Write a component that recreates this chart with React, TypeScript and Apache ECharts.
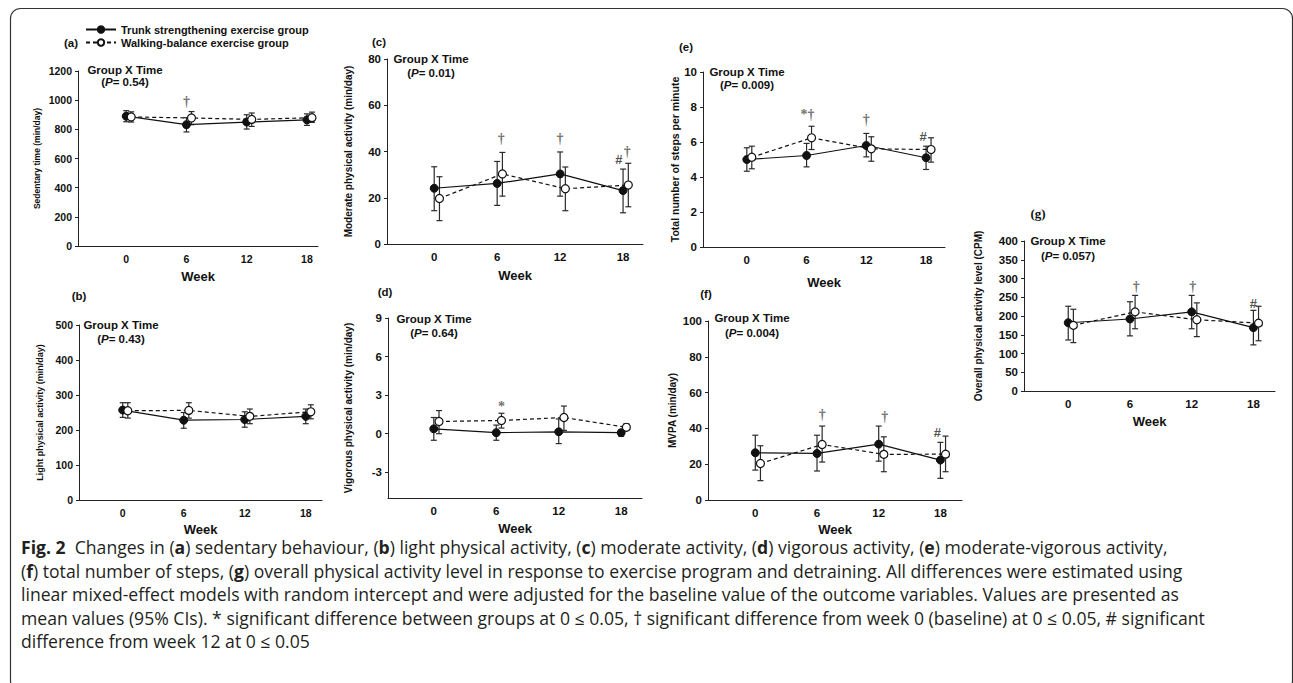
import React, { useEffect, useRef } from 'react';
import * as echarts from 'echarts';

// ---------- DATA ----------
const weeks = [0, 6, 12, 18];
const weekTicks = [0, 6, 12, 18];
const WALK_OFFSET = 0.5;
const seriesNames = ['Trunk strengthening exercise group', 'Walking-balance exercise group'];

// (a) Sedentary time (min/day)
const sedTrunk = [890, 832, 850, 865];
const sedTrunkLo = [852, 782, 802, 827];
const sedTrunkHi = [928, 880, 900, 906];
const sedWalk = [885, 878, 868, 880];
const sedWalkLo = [850, 832, 820, 848];
const sedWalkHi = [920, 922, 912, 918];
const sedTicks = [0, 200, 400, 600, 800, 1000, 1200];
const sedMarks: [number, number, string][] = [[6, 990, '†']];

// (b) Light physical activity (min/day)
const lightTrunk = [257, 228, 230, 239];
const lightTrunkLo = [236, 205, 208, 218];
const lightTrunkHi = [278, 250, 252, 260];
const lightWalk = [255, 256, 239, 252];
const lightWalkLo = [234, 234, 218, 232];
const lightWalkHi = [278, 278, 260, 272];
const lightTicks = [0, 100, 200, 300, 400, 500];
const lightMarks: [number, number, string][] = [];

// (c) Moderate physical activity (min/day)
const modTrunk = [24.1, 26.2, 30.3, 23.1];
const modTrunkLo = [14.4, 16.7, 20.7, 13.5];
const modTrunkHi = [33.4, 35.7, 39.8, 32.4];
const modWalk = [19.7, 30.3, 23.9, 25.5];
const modWalkLo = [10.1, 20.7, 14.4, 16.1];
const modWalkHi = [29.1, 39.6, 33.3, 34.9];
const modTicks = [0, 20, 40, 60, 80];
const modMarks: [number, number, string][] = [[6.4, 45.7, '†'], [12, 45.7, '†'], [17.6, 36.6, '#'], [18.4, 40.2, '†']];

// (d) Vigorous physical activity (min/day)
const vigTrunk = [0.38, 0.08, 0.15, 0.08];
const vigTrunkLo = [-0.51, -0.51, -0.77, -0.2];
const vigTrunkHi = [1.26, 0.67, 1.15, 0.3];
const vigWalk = [0.95, 1.03, 1.26, 0.5];
const vigWalkLo = [0.0, 0.44, 0.26, 0.3];
const vigWalkHi = [1.8, 1.59, 2.15, 0.77];
const vigTicks = [-3, 0, 3, 6, 9];
const vigMarks: [number, number, string][] = [[6.5, 2.15, '*']];

// (e) Total number of steps per minute
const stepTrunk = [5.0, 5.23, 5.8, 5.1];
const stepTrunkLo = [4.33, 4.58, 5.15, 4.43];
const stepTrunkHi = [5.67, 5.92, 6.49, 5.76];
const stepWalk = [5.13, 6.24, 5.61, 5.57];
const stepWalkLo = [4.47, 5.57, 4.9, 4.85];
const stepWalkHi = [5.76, 6.9, 6.3, 6.24];
const stepTicks = [0, 2, 4, 6, 8, 10];
const stepMarks: [number, number, string][] = [[6.1, 7.58, '*†'], [12, 7.29, '†'], [17.7, 6.34, '#']];

// (f) MVPA (min/day)
const mvpaTrunk = [26.4, 26.0, 31.2, 22.3];
const mvpaTrunkLo = [16.7, 16.2, 21.7, 12.1];
const mvpaTrunkHi = [36.2, 36.2, 41.3, 32.2];
const mvpaWalk = [20.4, 31.0, 25.5, 25.6];
const mvpaWalkLo = [10.8, 21.2, 15.8, 15.8];
const mvpaWalkHi = [30.3, 41.3, 35.3, 35.7];
const mvpaTicks = [0, 20, 40, 60, 80, 100];
const mvpaMarks: [number, number, string][] = [[6.5, 48, '†'], [12.6, 46.5, '†'], [17.7, 37.5, '#']];

// (g) Overall physical activity level (CPM)
const cpmTrunk = [182, 192, 211, 169];
const cpmTrunkLo = [136, 147, 166, 123];
const cpmTrunkHi = [226, 238, 255, 215];
const cpmWalk = [175, 211, 190, 181];
const cpmWalkLo = [129, 166, 145, 134];
const cpmWalkHi = [218, 255, 235, 226];
const cpmTicks = [0, 50, 100, 150, 200, 250, 300, 350, 400];
const cpmMarks: [number, number, string][] = [[6.6, 279, '†'], [12.1, 279, '†'], [18, 233, '#']];

const captionLines = [
  '{b|Fig. 2}  Changes in ({b|a}) sedentary behaviour, ({b|b}) light physical activity, ({b|c}) moderate activity, ({b|d}) vigorous activity, ({b|e}) moderate-vigorous activity,',
  '({b|f}) total number of steps, ({b|g}) overall physical activity level in response to exercise program and detraining. All differences were estimated using',
  'linear mixed-effect models with random intercept and were adjusted for the baseline value of the outcome variables. Values are presented as',
  'mean values (95% CIs). * significant difference between groups at 0 ≤ 0.05, † significant difference from week 0 (baseline) at 0 ≤ 0.05, # significant',
  'difference from week 12 at 0 ≤ 0.05',
];

// ---------- PANELS (data + layout) ----------
const panels = [
  { key: 'a', title: 'Sedentary time (min/day)', p: '0.54', trunk: sedTrunk, tLo: sedTrunkLo, tHi: sedTrunkHi, walk: sedWalk, wLo: sedWalkLo, wHi: sedWalkHi, ticks: sedTicks, marks: sedMarks,
    L: { left: 78, top: 71, width: 240, height: 175, xMin: -4.8, xMax: 19.1, tSize: 8.5, nGap: 37, tick: 10.5, wGap: 24, lab: [71, 43], gx: 125, gy: [70, 82], serif: false } },
  { key: 'b', title: 'Light physical activity (min/day)', p: '0.43', trunk: lightTrunk, tLo: lightTrunkLo, tHi: lightTrunkHi, walk: lightWalk, wLo: lightWalkLo, wHi: lightWalkHi, ticks: lightTicks, marks: lightMarks,
    L: { left: 79, top: 325, width: 243, height: 175, xMin: -4.3, xMax: 19.6, tSize: 9, nGap: 35, tick: 10.5, wGap: 23, lab: [79, 296], gx: 121, gy: [325, 339], serif: false } },
  { key: 'c', title: 'Moderate physical activity (min/day)', p: '0.01', trunk: modTrunk, tLo: modTrunkLo, tHi: modTrunkHi, walk: modWalk, wLo: modWalkLo, wHi: modWalkHi, ticks: modTicks, marks: modMarks,
    L: { left: 387, top: 59, width: 256, height: 185, xMin: -4.5, xMax: 19.9, tSize: 10, nGap: 34, tick: 11.5, wGap: 25, lab: [379, 42], gx: 431, gy: [59, 73], serif: false } },
  { key: 'd', title: 'Vigorous physical activity (min/day)', p: '0.64', trunk: vigTrunk, tLo: vigTrunkLo, tHi: vigTrunkHi, walk: vigWalk, wLo: vigWalkLo, wHi: vigWalkHi, ticks: vigTicks, marks: vigMarks,
    L: { left: 388, top: 318, width: 254, height: 180, xMin: -4.4, xMax: 20.0, tSize: 10, nGap: 35, tick: 11.5, wGap: 24, lab: [385, 292], gx: 434, gy: [319, 333], serif: false, yMin: -5 } },
  { key: 'e', title: 'Total number of steps per minute', p: '0.009', trunk: stepTrunk, tLo: stepTrunkLo, tHi: stepTrunkHi, walk: stepWalk, wLo: stepWalkLo, wHi: stepWalkHi, ticks: stepTicks, marks: stepMarks,
    L: { left: 703, top: 72, width: 242, height: 175, xMin: -4.4, xMax: 19.9, tSize: 10.5, nGap: 21, tick: 11.5, wGap: 29, lab: [686, 47], gx: 747, gy: [72, 85], serif: false } },
  { key: 'f', title: 'MVPA (min/day)', p: '0.004', trunk: mvpaTrunk, tLo: mvpaTrunkLo, tHi: mvpaTrunkHi, walk: mvpaWalk, wLo: mvpaWalkLo, wHi: mvpaWalkHi, ticks: mvpaTicks, marks: mvpaMarks,
    L: { left: 708, top: 321, width: 254, height: 179, xMin: -4.6, xMax: 20.1, tSize: 10, nGap: 31, tick: 11.5, wGap: 23, lab: [706, 294], gx: 752, gy: [318, 333], serif: false } },
  { key: 'g', title: 'Overall physical activity level (CPM)', p: '0.057', trunk: cpmTrunk, tLo: cpmTrunkLo, tHi: cpmTrunkHi, walk: cpmWalk, wLo: cpmWalkLo, wHi: cpmWalkHi, ticks: cpmTicks, marks: cpmMarks,
    L: { left: 1024, top: 241, width: 251, height: 150, xMin: -4.3, xMax: 20.1, tSize: 10, nGap: 41, tick: 11.5, wGap: 24, lab: [1038, 213], gx: 1068, gy: [241, 256], serif: true } },
];

const SANS = '"Liberation Sans", Arial, sans-serif';
const SERIF = '"Liberation Serif", "Times New Roman", serif';
const CAP_FONT = '"Open Sans", sans-serif';
const CAP_SIZE = 17.6;
const INK = '#111';
const MARK_GRAY = '#4a4a4a';

function errorBarRender(params: any, api: any) {
  const x = api.value(0);
  const lo = api.coord([x, api.value(1)]);
  const hi = api.coord([x, api.value(2)]);
  const w = 3;
  const st = { stroke: '#2a2a2a', lineWidth: 1.2 };
  return {
    type: 'group',
    children: [
      { type: 'line', shape: { x1: lo[0], y1: lo[1], x2: hi[0], y2: hi[1] }, style: st },
      { type: 'line', shape: { x1: lo[0] - w, y1: lo[1], x2: lo[0] + w, y2: lo[1] }, style: st },
      { type: 'line', shape: { x1: hi[0] - w, y1: hi[1], x2: hi[0] + w, y2: hi[1] }, style: st },
    ],
  };
}

function buildOption() {
  const grid: any[] = [];
  const xAxis: any[] = [];
  const yAxis: any[] = [];
  const series: any[] = [];
  const graphic: any[] = [];

  panels.forEach((pn, i) => {
    const L: any = pn.L;
    grid.push({ left: L.left, top: L.top, width: L.width, height: L.height });
    xAxis.push({
      type: 'value', gridIndex: i, min: L.xMin, max: L.xMax,
      name: 'Week', nameLocation: 'middle', nameGap: L.wGap,
      nameTextStyle: { fontFamily: SANS, fontWeight: 'bold', fontSize: 13, color: INK, lineHeight: 13 },
      axisLine: { onZero: false, lineStyle: { color: '#222', width: 1 } },
      axisTick: { show: false },
      splitLine: { show: false },
      axisLabel: { customValues: weekTicks, fontFamily: SANS, fontWeight: 'bold', fontSize: L.tick, color: INK, margin: 7, formatter: (v: number) => String(v) },
    });
    const ticks = pn.ticks;
    yAxis.push({
      type: 'value', gridIndex: i,
      min: L.yMin !== undefined ? L.yMin : ticks[0], max: ticks[ticks.length - 1],
      name: pn.title, nameLocation: 'middle', nameGap: L.nGap,
      nameTextStyle: { fontFamily: SANS, fontWeight: 'bold', fontSize: L.tSize, color: INK },
      axisLine: { show: true, onZero: false, lineStyle: { color: '#222', width: 1 } },
      axisTick: { show: true, inside: false, length: 3, customValues: ticks, lineStyle: { color: '#222' } },
      splitLine: { show: false },
      axisLabel: { customValues: ticks, fontFamily: SANS, fontWeight: 'bold', fontSize: L.tick, color: INK, margin: 6, formatter: (v: number) => String(v) },
    });

    const tErr = weeks.map((w, k) => [w, pn.tLo[k], pn.tHi[k]]);
    const wErr = weeks.map((w, k) => [w + WALK_OFFSET, pn.wLo[k], pn.wHi[k]]);
    series.push({ type: 'custom', xAxisIndex: i, yAxisIndex: i, renderItem: errorBarRender, data: tErr, encode: { x: 0, y: [1, 2] }, z: 2, silent: true });
    series.push({ type: 'custom', xAxisIndex: i, yAxisIndex: i, renderItem: errorBarRender, data: wErr, encode: { x: 0, y: [1, 2] }, z: 2, silent: true });
    series.push({
      name: seriesNames[0], type: 'line', xAxisIndex: i, yAxisIndex: i, z: 4,
      data: weeks.map((w, k) => [w, pn.trunk[k]]),
      symbol: 'circle', symbolSize: 8, showSymbol: true,
      lineStyle: { color: INK, width: 1.2, type: 'solid' },
      itemStyle: { color: INK, borderColor: INK, borderWidth: 1 },
    });
    series.push({
      name: seriesNames[1], type: 'line', xAxisIndex: i, yAxisIndex: i, z: 5,
      data: weeks.map((w, k) => [w + WALK_OFFSET, pn.walk[k]]),
      symbol: 'circle', symbolSize: 8, showSymbol: true,
      lineStyle: { color: INK, width: 1.2, type: [4, 3] },
      itemStyle: { color: '#fff', borderColor: INK, borderWidth: 1.2 },
    });
    if (pn.marks.length) {
      series.push({
        type: 'scatter', xAxisIndex: i, yAxisIndex: i, z: 6, silent: true,
        symbolSize: 0, data: pn.marks,
        itemStyle: { color: MARK_GRAY },
        label: {
          show: true, position: 'inside', color: MARK_GRAY,
          formatter: (p: any) => (p.value[2] === '#' ? '{h|#}' : '{s|' + p.value[2] + '}'),
          rich: {
            h: { fontFamily: SANS, fontWeight: 'bold', fontSize: 13, color: '#222' },
            s: { fontFamily: SERIF, fontWeight: 'bold', fontSize: 14, color: MARK_GRAY },
          },
        },
      });
    }

    // panel label
    graphic.push({
      type: 'text', x: L.lab[0], y: L.lab[1],
      style: {
        text: '(' + pn.key + ')', fill: INK,
        font: L.serif ? 'bold 13px ' + SERIF : 'bold 11.5px ' + SANS,
        align: 'center', verticalAlign: 'middle', textAlign: 'center', textVerticalAlign: 'middle',
      },
    });
    // Group X Time
    graphic.push({
      type: 'text', x: L.gx, y: L.gy[0],
      style: {
        text: 'Group X Time', fill: INK, font: 'bold 11.5px ' + SANS,
        align: 'center', verticalAlign: 'middle', textAlign: 'center', textVerticalAlign: 'middle',
      },
    });
    graphic.push({
      type: 'text', x: L.gx, y: L.gy[1],
      style: {
        text: '({i|P}= ' + pn.p + ')', fill: INK, font: 'bold 11.5px ' + SANS,
        align: 'center', verticalAlign: 'middle', textAlign: 'center', textVerticalAlign: 'middle',
        rich: { i: { fontStyle: 'italic', fontWeight: 'bold', fontSize: 11.5, fontFamily: SANS, fill: INK, color: INK } },
      },
    });
  });

  // caption
  captionLines.forEach((line, k) => {
    graphic.push({
      type: 'text', x: 21, y: 547 + k * 23.6,
      style: {
        text: line, fill: '#231f20', font: CAP_SIZE + 'px ' + CAP_FONT, lineHeight: 17,
        align: 'left', verticalAlign: 'middle', textAlign: 'left', textVerticalAlign: 'middle',
        rich: { b: { fontWeight: 'bold', fontSize: CAP_SIZE, fontFamily: CAP_FONT, fill: '#231f20', color: '#231f20', lineHeight: 17 } },
      },
    });
  });

  // frame
  graphic.push({
    type: 'rect', z: -1,
    shape: { x: 10.5, y: 8.5, width: 1282, height: 682, r: 10 },
    style: { fill: 'none', stroke: '#333', lineWidth: 1.2 },
  });

  return {
    animation: false,
    backgroundColor: '#fff',
    legend: {
      data: seriesNames,
      orient: 'vertical', left: 80, top: 19,
      itemWidth: 30, itemHeight: 8, itemGap: 2,
      selectedMode: false,
      textStyle: { fontFamily: SANS, fontWeight: 'bold', fontSize: 11, color: INK },
    },
    grid, xAxis, yAxis, series, graphic,
  };
}

export default function App() {
  const ref = useRef<HTMLDivElement>(null);
  useEffect(() => {
    if (!ref.current) return;
    const chart = echarts.init(ref.current, undefined, { renderer: 'svg' });
    chart.setOption(buildOption() as any);
    return () => chart.dispose();
  }, []);
  return <div ref={ref} style={{ position: 'absolute', left: 0, top: 0, width: 1293, height: 683 }} />;
}
